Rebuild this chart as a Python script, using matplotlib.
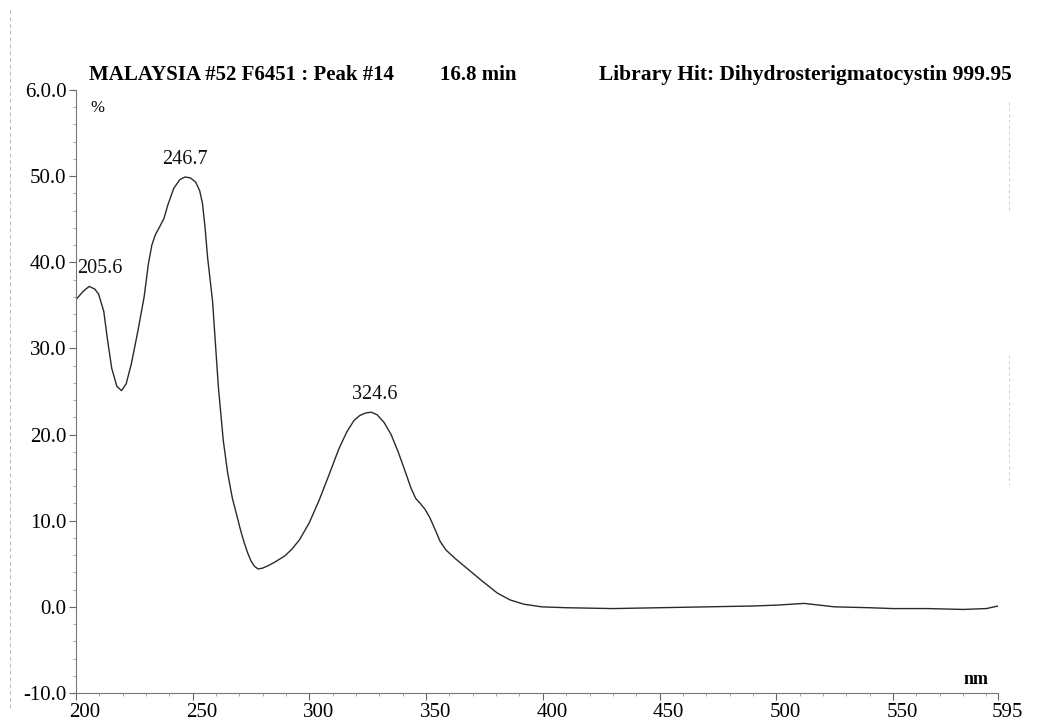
import matplotlib
matplotlib.use("Agg")
import matplotlib.pyplot as plt
from matplotlib.lines import Line2D
from matplotlib.transforms import ScaledTranslation

# UV spectrum (nm, % absorbance)
wavelength = [200.4, 203.0, 205.6, 208.0, 209.7, 211.9, 213.5, 215.3, 217.5, 219.5,
              221.5, 223.7, 226.5, 229.2, 231.0, 232.5, 234.0, 235.6, 237.7, 239.4,
              241.9, 244.5, 246.7, 249.0, 251.3, 253.0, 254.2, 255.3, 256.4, 258.5,
              261.0, 263.1, 265.0, 267.0, 269.0, 270.5, 272.0, 273.5, 275.0, 276.5,
              278.0, 280.0, 282.5, 285.2, 289.4, 292.5, 295.8, 300.0, 304.2, 308.5,
              312.7, 316.0, 319.0, 321.5, 324.0, 326.5, 329.0, 332.0, 335.0, 338.0,
              340.8, 343.5, 345.5, 347.5, 349.6, 351.5, 353.8, 356.0, 358.5, 362.5,
              367.8, 374.0, 380.5, 386.0, 392.0, 399.6, 410.0, 430.0, 450.0, 470.0,
              490.0, 500.0, 512.0, 525.0, 540.0, 550.0, 565.0, 580.0, 590.0, 595.0]
absorb = [35.8, 36.6, 37.2, 36.9, 36.3, 34.3, 31.0, 27.7, 25.6, 25.1,
          25.9, 28.2, 32.0, 36.0, 39.8, 42.0, 43.2, 44.0, 45.1, 46.7,
          48.6, 49.6, 49.9, 49.8, 49.3, 48.3, 46.8, 44.0, 40.5, 35.5,
          25.5, 19.3, 15.5, 12.6, 10.5, 8.9, 7.5, 6.3, 5.3, 4.7,
          4.4, 4.5, 4.8, 5.2, 5.9, 6.7, 7.8, 9.8, 12.4, 15.4,
          18.4, 20.3, 21.6, 22.2, 22.5, 22.6, 22.3, 21.4, 20.0, 18.0,
          15.9, 13.8, 12.6, 12.0, 11.3, 10.4, 9.0, 7.6, 6.6, 5.6,
          4.4, 3.0, 1.6, 0.8, 0.3, 0.0, -0.1, -0.2, -0.1, 0.0,
          0.1, 0.2, 0.4, 0.0, -0.1, -0.2, -0.2, -0.3, -0.2, 0.1]

peak_nm = [205.6, 246.7, 324.6]
peak_val = [37.2, 49.9, 22.6]
peak_pos = [205.6, 246.7, 326.0]
peak_offset = [(8, 6), (0, 6), (3, 6)]

xticks = [200, 250, 300, 350, 400, 450, 500, 550, 595]
yticks = [-10, 0, 10, 20, 30, 40, 50, 60]
ylabels = ["-10.0", "0.0", "10.0", "20.0", "30.0", "40.0", "50.0", "6.0.0"]

plt.rcParams['font.family'] = ['Liberation Serif', 'DejaVu Serif']

W, H = 1038, 722
fig = plt.figure(figsize=(W / 100, H / 100), dpi=100)
ax = fig.add_axes([76 / W, (H - 693) / H, (998 - 76) / W, (693 - 90) / H])

ax.plot(wavelength, absorb, color='#2a2a2a', lw=1.0)

for nm, pos, v, off in zip(peak_nm, peak_pos, peak_val, peak_offset):
    ax.annotate(f"{nm:.1f}", xy=(pos, v), xytext=off, textcoords='offset points',
                ha='center', va='bottom', fontsize=14.5, color='#111')

ax.set_xlim(200, 595)
ax.set_ylim(-10, 60)
ax.set_xticks(xticks)
ax.set_xticklabels([str(t) for t in xticks], fontsize=15)
ax.set_yticks(yticks)
ax.set_yticklabels(ylabels, fontsize=15)
ax.set_xticks(range(210, 595, 10), minor=True)
ax.set_yticks(range(-8, 60, 2), minor=True)
ax.tick_params(which='major', length=5, width=0.8, color='#666', pad=2)
ax.tick_params(which='minor', length=2.5, width=0.6, color='#999')
ax.tick_params(axis='x', which='both', direction='out')

# x labels on the print sit a little right of their ticks
shift = ScaledTranslation(9 / 100, 0, fig.dpi_scale_trans)
for lab in ax.get_xticklabels():
    lab.set_transform(lab.get_transform() + shift)

for side in ['top', 'right']:
    ax.spines[side].set_visible(False)
for side in ['left', 'bottom']:
    ax.spines[side].set_color('#777')
    ax.spines[side].set_linewidth(0.8)

ax.text(0.016, 0.983, "%", transform=ax.transAxes, fontsize=12, va='top', ha='left')
ax.text(0.99, 0.008, "nm", transform=ax.transAxes, fontsize=13, fontweight='bold',
        va='bottom', ha='right')

fig.text(89 / W, (H - 80) / H, "MALAYSIA #52 F6451 : Peak #14", fontsize=15,
         fontweight='bold', va='baseline', ha='left')
fig.text(440 / W, (H - 80) / H, "16.8 min", fontsize=15, fontweight='bold',
         va='baseline', ha='left')
fig.text(1012 / W, (H - 80) / H, "Library Hit: Dihydrosterigmatocystin 999.95",
         fontsize=15.5, fontweight='bold', va='baseline', ha='right')

# faint scan edges
fig.add_artist(Line2D([10 / W, 10 / W], [0.02, 0.99], transform=fig.transFigure,
                      color='#bbb', lw=0.7, ls=(0, (4, 3))))
for y0, y1 in [(102, 213), (355, 485)]:
    fig.add_artist(Line2D([1009 / W, 1009 / W], [(H - y0) / H, (H - y1) / H],
                          transform=fig.transFigure, color='#ccc', lw=0.7,
                          ls=(0, (3, 3))))

fig.savefig("out.png", dpi=100, facecolor='white')
